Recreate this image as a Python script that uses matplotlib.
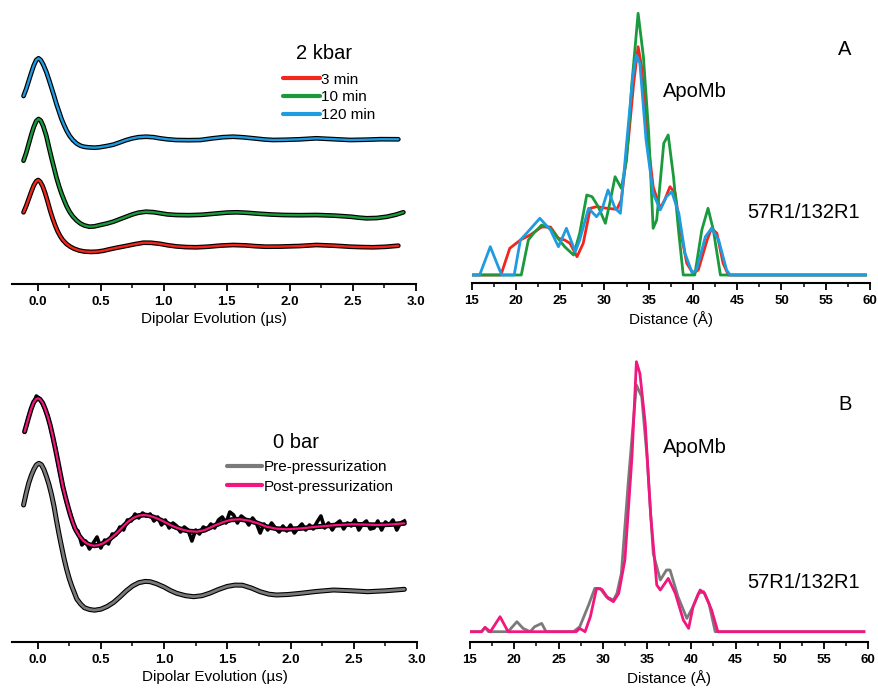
import numpy as np
import matplotlib
matplotlib.use("Agg")
import matplotlib.pyplot as plt
from matplotlib.lines import Line2D
from matplotlib.ticker import MultipleLocator

plt.rcParams['font.family'] = ['Liberation Sans', 'DejaVu Sans']

W, H = 879, 688

# --- time traces, 2 kbar (echo heights, a.u.) ---
t_blue = [-0.111, -0.09, -0.07, -0.05, -0.03, -0.01, 0.008, 0.025, 0.045, 0.07, 0.09, 0.11, 0.13,
          0.15, 0.17, 0.19, 0.21, 0.23, 0.255, 0.28, 0.31, 0.34, 0.37, 0.40, 0.45, 0.49, 0.55, 0.60,
          0.65, 0.70, 0.75, 0.80, 0.86, 0.92, 0.97, 1.03, 1.1, 1.2, 1.29, 1.39, 1.47, 1.55, 1.63,
          1.71, 1.8, 1.87, 1.96, 2.08, 2.21, 2.35, 2.48, 2.6, 2.72, 2.86]
v_blue = [188, 195, 203, 211, 218.5, 224, 225.7, 224, 219.5, 212, 204.5, 196.5, 188.5,
          180, 172.5, 165, 159, 153.5, 148, 144, 140.5, 138.3, 137.2, 136.7, 136.3, 136.7, 138, 139.3,
          141.5, 143.8, 145.6, 146.8, 147.3, 146.8, 145.7, 144.7, 144, 143.8, 144, 145.7, 146.8, 147.3, 146.7,
          145.7, 144.5, 144, 144.2, 144.7, 145.7, 144.8, 144, 144.3, 144.8, 144.7]

t_green = [-0.111, -0.09, -0.07, -0.05, -0.03, -0.01, 0.008, 0.025, 0.045, 0.07, 0.09, 0.11, 0.13,
           0.15, 0.17, 0.19, 0.21, 0.23, 0.255, 0.28, 0.31, 0.34, 0.37, 0.41, 0.45, 0.49, 0.55, 0.60,
           0.65, 0.70, 0.75, 0.80, 0.86, 0.92, 0.97, 1.03, 1.1, 1.2, 1.3, 1.4, 1.5, 1.58, 1.66, 1.75,
           1.85, 1.95, 2.08, 2.21, 2.35, 2.48, 2.55, 2.61, 2.69, 2.77, 2.84, 2.9]
v_green = [123.3, 131, 140, 149, 157, 163, 165, 163.5, 158, 148, 137, 126.5, 116.5,
           106.5, 98, 90.5, 84, 78, 72, 67.5, 63.5, 60.5, 58.6, 57.3, 57.6, 58.8, 60.5, 62.3,
           64.7, 67.1, 69.5, 71.3, 72.3, 71.8, 70.8, 69.6, 69, 68.8, 69.2, 70.3, 71.4, 71.7, 71.2, 70.3,
           69.5, 69, 68.8, 69, 68.4, 67.3, 66.3, 65.7, 66, 67.3, 69.3, 71.7]

t_red = [-0.111, -0.09, -0.07, -0.05, -0.03, -0.01, 0.005, 0.02, 0.04, 0.06, 0.08, 0.1, 0.12,
         0.14, 0.16, 0.18, 0.2, 0.23, 0.26, 0.29, 0.33, 0.37, 0.42, 0.47, 0.52, 0.57, 0.63, 0.7,
         0.77, 0.84, 0.9, 0.97, 1.03, 1.1, 1.18, 1.26, 1.35, 1.45, 1.55, 1.65, 1.73, 1.81, 1.92,
         2.08, 2.21, 2.35, 2.48, 2.57, 2.66, 2.76, 2.86]
v_red = [71.7, 78, 85, 92, 98.5, 102.8, 104, 102.5, 98, 91, 82.5, 73.5, 65.5,
         58.5, 52.5, 47.8, 44, 40, 37.3, 35.3, 33.5, 32.5, 32.1, 32.3, 33.2, 34.7, 36.3, 38,
         39.8, 41.3, 41.2, 40.2, 38.8, 37.6, 36.9, 36.7, 37.3, 38.4, 39, 38.6, 37.8, 37.3, 37.4,
         38, 39, 38.3, 37.3, 36.9, 36.7, 37.2, 38.3]

# --- time traces, 0 bar ---
t_post = [-0.103, -0.09, -0.07, -0.05, -0.03, -0.01, 0.005, 0.02, 0.04, 0.06, 0.08, 0.1, 0.12,
          0.14, 0.16, 0.18, 0.2, 0.22, 0.24, 0.26, 0.28, 0.3, 0.33, 0.36, 0.39, 0.42, 0.45, 0.48,
          0.52, 0.56, 0.6, 0.64, 0.68, 0.72, 0.76, 0.8, 0.84, 0.88, 0.92, 0.96, 1.0, 1.05, 1.1,
          1.15, 1.2, 1.26, 1.32, 1.4, 1.47, 1.53, 1.6, 1.67, 1.74, 1.81, 1.89, 1.97, 2.08, 2.21,
          2.35, 2.48, 2.6, 2.69, 2.8, 2.9]
v_post = [210.3, 216, 225, 233.5, 240, 243, 243.7, 242.5, 239, 233, 225.5, 216.5, 205.5,
          193.5, 181, 168, 155.3, 145, 135.5, 126.5, 119, 112.5, 106, 101.3, 98.5, 96.8, 96.3, 96.8,
          98.7, 102, 106, 110.7, 116, 120.8, 124.3, 126.4, 127, 126.4, 124.8, 122.7, 120.3, 117, 114.3,
          112.2, 110.8, 110.3, 111.8, 116.5, 120, 122.2, 122.7, 121.4, 118.8, 115.3, 113.3, 112.7, 113.6, 115.3,
          116.8, 117.7, 117.4, 117, 117.6, 118.7]

# raw (noisy) post-pressurization echo, sampled every 0.03 us from -0.10
v_post_raw = [212, 226, 236, 246, 243, 235, 227, 210, 195, 173, 156, 139, 128, 114, 111, 97,
              101, 93, 99, 105, 94, 102, 98, 108, 107, 115, 112, 122, 121, 128, 124, 129,
              126, 128, 121, 125, 117, 122, 114, 119, 116, 110, 115, 112, 101, 112, 108, 115,
              113, 118, 114, 122, 125, 119, 130, 127, 119, 126, 123, 117, 124, 119, 109, 118,
              112, 119, 114, 110, 116, 111, 117, 109, 114, 118, 112, 117, 113, 120, 126, 114,
              119, 112, 118, 121, 113, 119, 116, 122, 112, 118, 121, 113, 114, 121, 112, 120,
              117, 122, 112, 119, 121]
t_post_raw = np.round(-0.10 + 0.03 * np.arange(len(v_post_raw)), 2)

t_pre = [-0.111, -0.09, -0.07, -0.05, -0.03, -0.01, 0.01, 0.03, 0.05, 0.07, 0.09, 0.11, 0.13,
         0.15, 0.17, 0.19, 0.21, 0.23, 0.25, 0.27, 0.29, 0.31, 0.34, 0.37, 0.41, 0.45, 0.5, 0.55,
         0.6, 0.65, 0.7, 0.75, 0.8, 0.85, 0.89, 0.94, 1.0, 1.05, 1.1, 1.17, 1.234, 1.3, 1.365,
         1.43, 1.5, 1.56, 1.62, 1.69, 1.76, 1.83, 1.89, 1.98, 2.08, 2.2, 2.34, 2.47, 2.61, 2.75, 2.9]
v_pre = [137, 149, 159, 166.5, 172.5, 177, 178.7, 177.3, 172.5, 165.5, 157.5, 147.5, 135.5,
         121, 107.5, 95, 83, 72.5, 63.5, 56, 49.5, 43, 38, 34.3, 32.5, 31.8, 32.8, 35.5,
         39.5, 45, 51, 56, 59.3, 60.6, 60.3, 58.3, 55, 51.5, 48.7, 46.3, 45.3, 46.3, 49,
         52.5, 55.6, 56.9, 56.8, 54, 50.3, 47.8, 47, 47.5, 48.7, 50.5, 52, 51.3, 50.3, 51.2, 52.7]

# --- distance distributions, panel A ---
r_red = [15, 18.3, 19.3, 20.5, 21.6, 22.9, 23.9, 24.8, 25.5, 26.1, 26.9, 27.6, 28.4, 29.1, 30.3,
         31.4, 31.9, 32.7, 33.3, 33.8, 34.2, 34.8, 35.5, 36.3, 36.8, 37.4, 38.0, 38.5, 39.3, 40.0,
         40.6, 41.6, 42.1, 42.7, 43.4, 44.0, 59.5]
p_red = [0, 0, 26.7, 35, 40, 48, 48, 36.7, 35, 31.7, 18.3, 31.7, 66.7, 68.3, 66.7,
         65.7, 75, 135, 191.7, 228.3, 208.3, 141.7, 88.3, 66.7, 75, 88.3, 81.7, 48, 11.7, 1.7,
         5, 35, 46.7, 41.7, 11.7, 0, 0]

r_green = [15, 20.6, 21.4, 22.0, 22.9, 23.9, 24.6, 25.5, 26.5, 27.2, 28.0, 28.6, 29.3, 30.1, 30.6,
           31.2, 31.9, 32.5, 33.1, 33.8, 34.4, 35.0, 35.5, 35.9, 36.7, 37.2, 37.8, 38.4, 38.9, 40.2,
           41.0, 41.7, 42.3, 43.1, 59.5]
p_green = [0, 0, 35, 41.7, 50, 46.7, 38.3, 28.3, 20, 41.7, 80, 78.3, 68.3, 51.7, 71.7,
           98.3, 86.7, 115, 191.7, 261.7, 218.3, 141.7, 46.7, 55, 131.7, 140, 98.3, 41.7, 0, 0,
           45, 66.7, 45, 0, 0]

r_blue = [15, 15.9, 17.1, 18.0, 18.4, 19.8, 20.5, 21.2, 22.7, 23.9, 24.8, 25.7, 26.7, 27.2, 28.2,
          29.1, 29.7, 30.4, 31.2, 31.8, 32.5, 33.2, 33.6, 34.0, 34.7, 35.5, 36.3, 37.0, 37.6, 38.4,
          39.1, 39.9, 40.4, 41.4, 42.1, 42.9, 43.8, 44.2, 59.5]
p_blue = [0, 0, 28.3, 8.3, 0, 0, 35, 41.7, 56.7, 45, 28.3, 46.7, 23.3, 35, 66.7,
          58.3, 65, 85, 66.7, 61.7, 131.7, 198.3, 220, 211.7, 135, 81.7, 65, 78.3, 83.3, 61.7,
          21.7, 2.3, 5, 38.3, 46.7, 35, 5, 0, 0]

# --- distance distributions, panel B ---
r_pre = [15, 16.3, 16.7, 17.1, 19.3, 20.3, 21.0, 21.8, 22.3, 23.1, 23.6, 26.7, 27.4, 28.4, 29.1,
         29.7, 30.4, 31.2, 31.6, 32.1, 32.9, 33.8, 34.4, 35.0, 35.7, 36.5, 37.2, 37.6, 38.5, 39.5,
         40.2, 40.8, 41.4, 42.0, 42.7, 59.5]
p_pre = [0, 0, 4.3, 0, 0, 10, 3.3, 0, 5, 8.3, 0, 0, 5, 26.7, 43.3,
         43.3, 35, 31.7, 38.3, 58.3, 151.7, 246.7, 235, 175, 78.3, 51.7, 61.7, 61.7, 35, 13.3,
         25, 38.3, 40, 28.3, 0, 0]

r_post = [15, 16.3, 16.7, 17.3, 18.4, 19.3, 27.0, 27.4, 28.0, 28.6, 29.3, 29.9, 30.6, 31.2, 31.8,
          32.5, 33.3, 33.8, 34.2, 34.8, 35.4, 36.1, 36.5, 37.4, 38.2, 39.1, 39.7, 40.2, 41.0, 41.5,
          42.3, 43.0, 59.5]
p_post = [0, 0, 4.3, 0, 15, 0, 0, 3.3, 0, 15, 43.3, 42.3, 33.3, 30, 38.3,
          71.7, 175, 270, 258, 208, 118, 46.7, 41.7, 53.3, 38.3, 11.7, 3.3, 25, 41.7, 38.3,
          21.7, 0, 0]

c_red = '#f2261c'
c_green = '#1a9a3c'
c_blue = '#1f9be0'
c_grey = '#7a7a7a'
c_pink = '#f2167e'

fig = plt.figure(figsize=(W / 100, H / 100), dpi=100)


def px_axes(x0, x1, ytop, ybot):
    return fig.add_axes([x0 / W, 1 - ybot / H, (x1 - x0) / W, (ybot - ytop) / H])


def style(ax, major, minor, xlabel):
    for s in ['left', 'right', 'top']:
        ax.spines[s].set_visible(False)
    ax.spines['bottom'].set_linewidth(1.5)
    ax.set_yticks([])
    ax.xaxis.set_major_locator(MultipleLocator(major))
    ax.xaxis.set_minor_locator(MultipleLocator(minor))
    ax.tick_params(axis='x', which='major', direction='out', length=5, width=1.3,
                   labelsize=9.5, pad=3.5)
    ax.tick_params(axis='x', which='minor', direction='out', length=3, width=1.1)
    for lab in ax.get_xticklabels():
        lab.set_fontweight('bold')
    ax.set_xlabel(xlabel, fontsize=11, labelpad=3)


def ftext(x, y, s, size, **kw):
    fig.text(x / W, 1 - y / H, s, fontsize=size, va='baseline', ha='left', **kw)


# top-left: 2 kbar traces
ax1 = px_axes(12.3, 416, 20, 284)
for t, v, c in [(t_red, v_red, c_red), (t_green, v_green, c_green), (t_blue, v_blue, c_blue)]:
    ax1.plot(t, v, color='black', lw=3.4, solid_capstyle='round')
    ax1.plot(t, v, color=c, lw=1.7, solid_capstyle='round')
ax1.set_xlim(-0.2, 3.0)
ax1.set_ylim(0, 264)
style(ax1, 0.5, 0.25, 'Dipolar Evolution (µs)')
handles = [Line2D([], [], color=c_red, lw=3, solid_capstyle='round'),
           Line2D([], [], color=c_green, lw=3, solid_capstyle='round'),
           Line2D([], [], color=c_blue, lw=3, solid_capstyle='round')]
fig.legend(handles, ['3 min', '10 min', '120 min'], loc='upper left',
           bbox_to_anchor=(283 / W, 1 - 72.5 / H), frameon=False, fontsize=11,
           borderpad=0, borderaxespad=0, handlelength=2.4, handletextpad=0.1,
           labelspacing=0.25)
ftext(296, 59.3, '2 kbar', 14.5)

# top-right: panel A distances
ax2 = px_axes(471.7, 870, 10, 283)
ax2.plot(r_red, p_red, color=c_red, lw=2.0)
ax2.plot(r_green, p_green, color=c_green, lw=2.0)
ax2.plot(r_blue, p_blue, color=c_blue, lw=2.0)
ax2.set_xlim(15, 60)
ax2.set_ylim(-8, 265)
style(ax2, 5, 2.5, 'Distance (Å)')
ftext(838.3, 55, 'A', 14.5)
ftext(662.7, 96.7, 'ApoMb', 14.5)
ftext(747.3, 218.3, '57R1/132R1', 14.5)

# bottom-left: 0 bar traces
ax3 = px_axes(12.3, 417, 360, 642)
ax3.plot(t_pre, v_pre, color='black', lw=3.6, solid_capstyle='round')
ax3.plot(t_pre, v_pre, color=c_grey, lw=2.0, solid_capstyle='round')
ax3.plot(t_post, v_post, color='black', lw=3.6, solid_capstyle='round')
ax3.plot(t_post_raw, v_post_raw, color='black', lw=2.6)
ax3.plot(t_post, v_post, color=c_pink, lw=1.6, solid_capstyle='round')
ax3.set_xlim(-0.2, 3.0)
ax3.set_ylim(0, 282)
style(ax3, 0.5, 0.25, 'Dipolar Evolution (µs)')
handles = [Line2D([], [], color=c_grey, lw=3, solid_capstyle='round'),
           Line2D([], [], color=c_pink, lw=3, solid_capstyle='round')]
fig.legend(handles, ['Pre-pressurization', 'Post-pressurization'], loc='upper left',
           bbox_to_anchor=(227 / W, 1 - 460.5 / H), frameon=False, fontsize=11,
           borderpad=0, borderaxespad=0, handlelength=2.3, handletextpad=0.1,
           labelspacing=0.33)
ftext(273.3, 448.3, '0 bar', 14.5)

# bottom-right: panel B distances
ax4 = px_axes(470, 868.3, 350, 641.7)
ax4.plot(r_pre, p_pre, color=c_grey, lw=2.0)
ax4.plot(r_post, p_post, color=c_pink, lw=2.0)
ax4.set_xlim(15, 60)
ax4.set_ylim(-10, 281.7)
style(ax4, 5, 2.5, 'Distance (Å)')
ftext(838.3, 410, 'B', 14.5)
ftext(662.7, 453, 'ApoMb', 14.5)
ftext(747.3, 588, '57R1/132R1', 14.5)

fig.savefig('out.png', dpi=100)
